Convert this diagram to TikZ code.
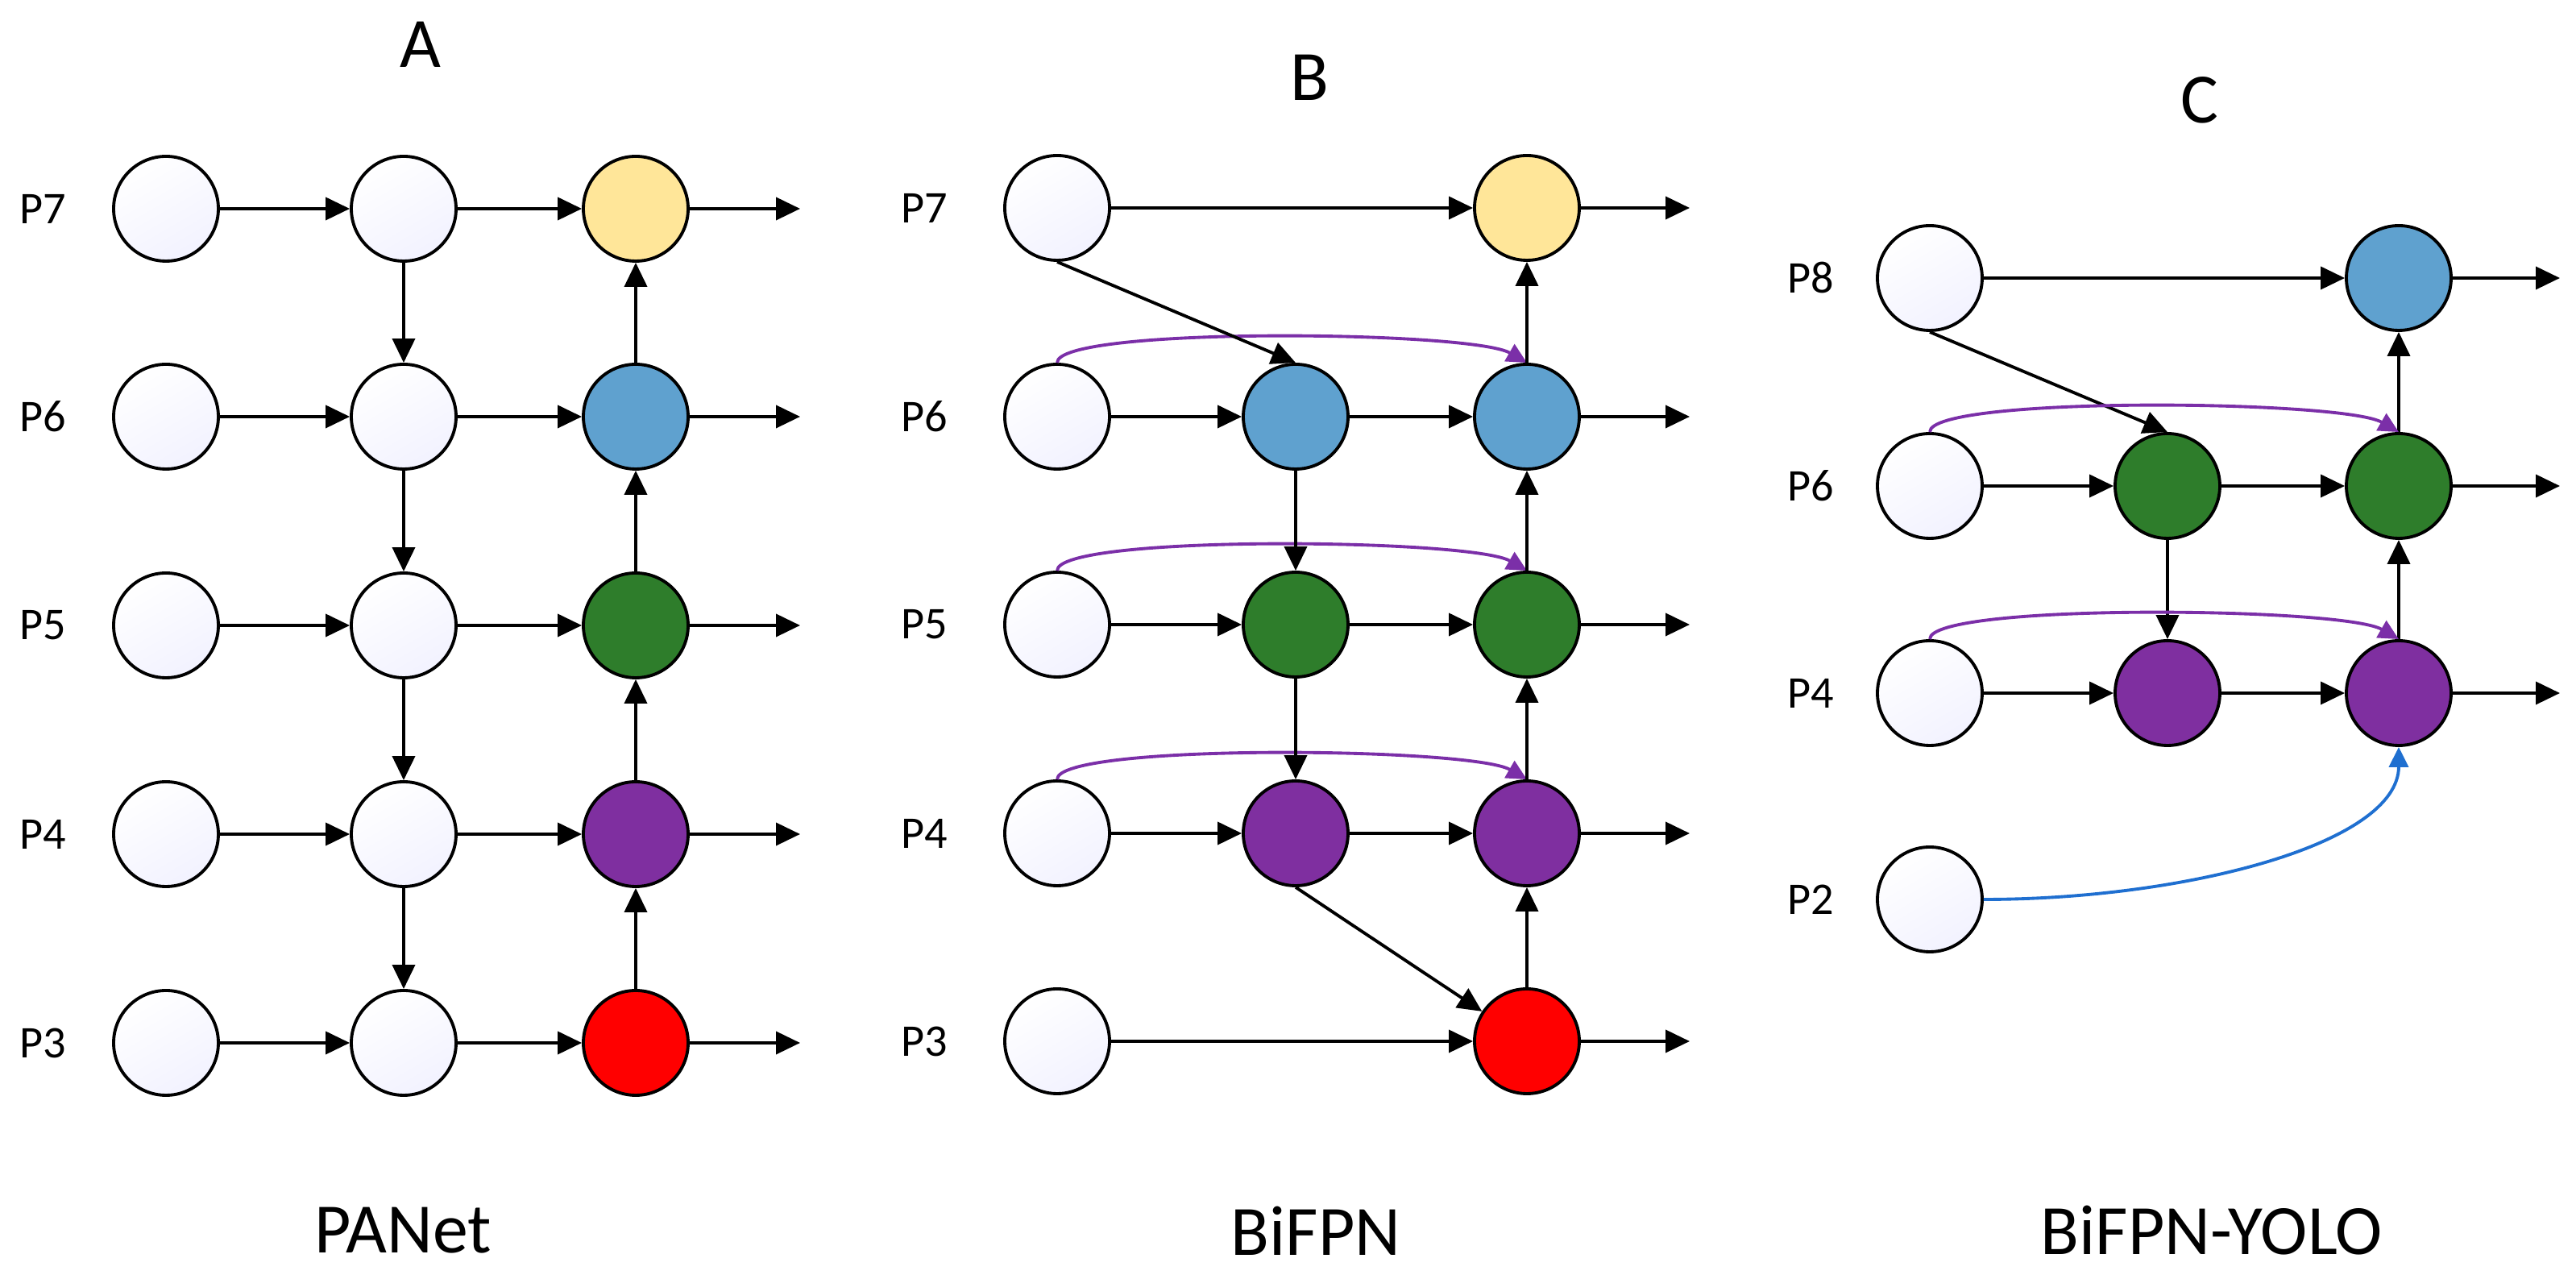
\documentclass[tikz,border=0pt]{standalone}
\usepackage{fontspec}
\setmainfont{Carlito}
\usetikzlibrary{arrows.meta}
\definecolor{cy}{HTML}{FFE699}
\definecolor{cb}{HTML}{5FA1CF}
\definecolor{cg}{HTML}{2E7D2B}
\definecolor{cp}{HTML}{7F2FA0}
\definecolor{cr}{HTML}{FF0000}
\definecolor{cl}{HTML}{7B2FA8}
\definecolor{cbl}{HTML}{1F6FD0}
\tikzset{
 nd/.style={circle,draw=black,line width=1.1pt,minimum size=1.3cm,inner sep=0pt},
 wn/.style={nd,top color=white,bottom color=blue!5!white,shading angle=30},
 ar/.style={line width=1.1pt,-{Triangle[length=0.3cm,width=0.28cm]}},
 sk/.style={line width=1.1pt,draw=cl,-{Triangle[length=0.25cm,width=0.24cm]},out=90,in=150,out distance=0.45cm,in distance=0.8cm},
 lb/.style={font=\fontsize{16}{18}\selectfont},
 tt/.style={font=\fontsize{25}{28}\selectfont}
}
\begin{document}
\begin{tikzpicture}
\useasboundingbox (0,0) rectangle (31.97,15.82);
% titles
\node[tt] (tA) at (5.22,15.27) {A};
\node[tt] (tB) at (16.25,14.86) {B};
\node[tt] (tC) at (27.30,14.58) {C};
\node[tt] (bA) at (5.00,0.55) {PANet};
\node[tt] (bB) at (16.33,0.55) {BiFPN};
\node[tt] (bC) at (27.45,0.55) {BiFPN-YOLO};
% ---------- Panel A
\foreach \n/\y/\c in {7/13.23/cy,6/10.65/cb,5/8.06/cg,4/5.47/cp,3/2.88/cr}{
 \node[lb] (aL\n) at (0.53,\y) {P\n};
 \node[wn] (ai\n) at (2.06,\y) {};
 \node[wn] (am\n) at (5.01,\y) {};
 \node[nd,fill=\c] (ao\n) at (7.89,\y) {};
 \coordinate (ae\n) at (9.93,\y);
 \draw[ar] (ai\n) -- (am\n);
 \draw[ar] (am\n) -- (ao\n);
 \draw[ar] (ao\n) -- (ae\n);
}
\foreach \a/\b in {7/6,6/5,5/4,4/3}{
 \draw[ar] (am\a) -- (am\b);
 \draw[ar] (ao\b) -- (ao\a);
}
% ---------- Panel B
\foreach \n/\y/\c in {7/13.24/cy,6/10.65/cb,5/8.07/cg,4/5.48/cp,3/2.90/cr}{
 \node[lb] (bL\n) at (11.47,\y) {P\n};
 \node[wn] (bi\n) at (13.12,\y) {};
 \node[nd,fill=\c] (bo\n) at (18.95,\y) {};
 \coordinate (be\n) at (20.97,\y);
 \draw[ar] (bo\n) -- (be\n);
}
\foreach \n/\y/\c in {6/10.65/cb,5/8.07/cg,4/5.48/cp}{
 \node[nd,fill=\c] (bm\n) at (16.08,\y) {};
 \draw[ar] (bi\n) -- (bm\n);
 \draw[ar] (bm\n) -- (bo\n);
 \draw[sk] (bi\n.north) to (bo\n.north);
}
\draw[ar] (bi7) -- (bo7);
\draw[ar] (bi3) -- (bo3);
\draw[ar] (bi7.south) -- (bm6.north);
\draw[ar] (bm6) -- (bm5);
\draw[ar] (bm5) -- (bm4);
\draw[ar] (bm4.south) -- (bo3);
\foreach \a/\b in {7/6,6/5,5/4,4/3}{
 \draw[ar] (bo\b) -- (bo\a);
}
% ---------- Panel C
\node[lb] (cL8) at (22.47,12.37) {P8};
\node[lb] (cL6) at (22.47,9.79) {P6};
\node[lb] (cL4) at (22.47,7.22) {P4};
\node[lb] (cL2) at (22.47,4.66) {P2};
\node[wn] (ci8) at (23.95,12.37) {};
\node[wn] (ci6) at (23.95,9.79) {};
\node[wn] (ci4) at (23.95,7.22) {};
\node[wn] (ci2) at (23.95,4.66) {};
\node[nd,fill=cg] (cm6) at (26.90,9.79) {};
\node[nd,fill=cp] (cm4) at (26.90,7.22) {};
\node[nd,fill=cb] (co8) at (29.77,12.37) {};
\node[nd,fill=cg] (co6) at (29.77,9.79) {};
\node[nd,fill=cp] (co4) at (29.77,7.22) {};
\coordinate (ce8) at (31.77,12.37);
\coordinate (ce6) at (31.77,9.79);
\coordinate (ce4) at (31.77,7.22);
\draw[ar] (ci8) -- (co8);
\draw[ar] (co8) -- (ce8);
\draw[ar] (co6) -- (ce6);
\draw[ar] (co4) -- (ce4);
\draw[ar] (ci6) -- (cm6);
\draw[ar] (cm6) -- (co6);
\draw[ar] (ci4) -- (cm4);
\draw[ar] (cm4) -- (co4);
\draw[ar] (ci8.south) -- (cm6.north);
\draw[ar] (cm6) -- (cm4);
\draw[ar] (co4) -- (co6);
\draw[ar] (co6) -- (co8);
\draw[sk] (ci6.north) to (co6.north);
\draw[sk] (ci4.north) to (co4.north);
\draw[line width=1.1pt,draw=cbl,-{Triangle[length=0.25cm,width=0.24cm]}] (ci2.east) to[out=0,in=-90,out distance=2.5cm,in distance=1.2cm] (co4.south);
\end{tikzpicture}
\end{document}
